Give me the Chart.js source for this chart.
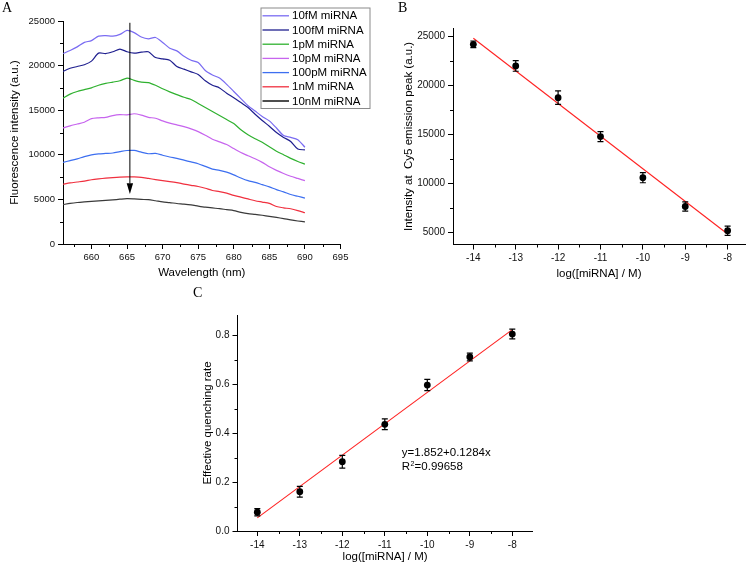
<!DOCTYPE html>
<html><head><meta charset="utf-8">
<script src="https://cdn.jsdelivr.net/npm/chart.js@4"></script>
<style>
html,body{margin:0;padding:0;background:#fff;}
#wrap{position:relative;width:750px;height:567px;overflow:hidden;background:#fff;}
#wrap canvas{position:absolute;left:0;top:0;}
.lbl{position:absolute;font-family:'Liberation Serif','DejaVu Serif',serif;font-size:14px;line-height:14px;color:#000;}
</style></head><body>
<div id="wrap">
<canvas id="cA" width="750" height="567" style="width:750px;height:567px"></canvas>
<canvas id="cB" width="750" height="567" style="width:750px;height:567px"></canvas>
<canvas id="cC" width="750" height="567" style="width:750px;height:567px"></canvas>
<div class="lbl" style="left:2px;top:1px">A</div>
<div class="lbl" style="left:398px;top:1px">B</div>
<div class="lbl" style="left:193px;top:286px">C</div>
</div>
<script>
// ---------- DATA ----------
const wavelengths = [656,657,658,659,660,661,662,663,664,665,666,667,668,669,670,671,672,673,674,675,676,677,678,679,680,681,682,683,684,685,686,687,688,689,690];
const s10fM  = [21350,21700,22100,22600,22800,23300,23350,23300,23500,23950,23700,23200,23000,23150,22600,21950,21650,21050,20600,20350,19450,18950,18600,17900,17100,16300,15500,14900,14300,13800,13000,12150,11950,11700,10850];
const s100fM = [19350,19700,19900,20100,20500,21400,21350,21550,21850,21550,21400,21500,21550,20900,20750,20600,19900,19600,19300,19000,18300,17800,17500,16900,16400,15850,15300,14550,13850,13200,12500,11950,11500,10650,10550];
const s1pM   = [16350,16800,17100,17300,17500,17800,18000,18150,18300,18600,18350,18150,18100,17800,17400,17050,16750,16450,16200,15750,15300,14850,14400,13950,13500,12800,12250,11800,11400,10900,10400,10000,9600,9250,8950];
const s10pM  = [13000,13250,13450,13650,14050,14150,14200,14400,14500,14480,14600,14450,14200,14100,13800,13550,13350,13150,12900,12600,12200,11750,11450,11150,10700,10250,9900,9550,9150,8650,8250,7900,7600,7350,7100];
const s100pM = [9150,9350,9550,9800,10000,10100,10150,10200,10350,10480,10490,10300,10120,10150,9950,9750,9600,9400,9200,9000,8700,8400,8250,8050,7750,7400,7100,6900,6650,6400,6100,5850,5550,5350,5150];
const s1nM   = [6700,6850,6950,7050,7200,7300,7380,7450,7500,7520,7520,7480,7350,7220,7100,7000,6880,6720,6580,6450,6250,6000,5880,5700,5450,5250,5050,4850,4700,4550,4200,4050,3950,3750,3500];
const s10nM  = [4420,4550,4650,4720,4780,4830,4880,4950,5020,5080,5050,5000,4970,4850,4720,4640,4540,4470,4380,4250,4130,4040,3960,3850,3750,3550,3400,3320,3220,3100,2980,2850,2700,2580,2480];
const seriesLabels = ['10fM miRNA','100fM miRNA','1pM miRNA','10pM miRNA','100pM miRNA','1nM miRNA','10nM miRNA'];
const seriesColors = ['#7a6cf2','#1f1f8f','#2fb12f','#c765ee','#3d6ff0','#f0303f','#3a3a3a'];
const arrowA = {x:665.4, from:24800, headBase:6800, to:5600};

const logConc   = [-14,-13,-12,-11,-10,-9,-8];
const peakB     = [24150,21950,18720,14750,10560,7630,5160];
const peakErrB  = [340,540,680,510,510,470,470];
const fitX      = [-14,-8];
const fitBY     = [24770,4830];
const quenchC   = [0.077,0.161,0.284,0.437,0.598,0.713,0.807];
const quenchErrC= [0.015,0.022,0.026,0.022,0.023,0.016,0.02];
const fitCY     = [0.054,0.825];

const ticksAx = [660,665,670,675,680,685,690,695];
const ticksAy = [0,5000,10000,15000,20000,25000];
const ticksBx = [-14,-13,-12,-11,-10,-9,-8];
const ticksBy = [5000,10000,15000,20000,25000];
const ticksCx = [-14,-13,-12,-11,-10,-9,-8];
const ticksCy = [0,0.2,0.4,0.6,0.8];

// ---------- HELPERS ----------
const FONT = "'Liberation Sans', Arial, sans-serif";
function makeScale(o){
  return {
    type:'linear', min:o.min, max:o.max, position:o.horizontal?'bottom':'left',
    afterBuildTicks:(s)=>{ s.ticks = o.ticks.map(v=>({value:v})); },
    afterFit:(s)=>{ if(o.horizontal) s.height=o.fixed; else s.width=o.fixed; },
    grid:{drawOnChartArea:false, drawTicks:true, tickLength:5, color:'#000', lineWidth:1},
    border:{display:true, color:'#000', width:1},
    ticks:{autoSkip:false, maxRotation:0, minRotation:0, padding:3, color:'#111',
      font:{family:FONT, size:o.fontSize}, callback:o.fmt || (v=>String(v))},
    title:{display:true, text:o.title, color:'#000', padding:0, font:{family:FONT, size:11.5}}
  };
}
const minorTicks = {
  id:'minorTicks',
  afterDraw(chart, args, opts){
    const ctx = chart.ctx; ctx.save(); ctx.strokeStyle='#000'; ctx.lineWidth=1;
    ['x','y'].forEach(id=>{
      const step = opts[id]; if(!step) return;
      const s = chart.scales[id];
      const majors = s.ticks.map(t=>t.value);
      const k0 = Math.ceil(s.min/step - 1e-9), k1 = Math.floor(s.max/step + 1e-9);
      for(let k=k0;k<=k1;k++){
        const v = k*step;
        if(majors.some(m=>Math.abs(m-v) < step*1e-3)) continue;
        const p = Math.round(s.getPixelForValue(v)) + 0.5;
        ctx.beginPath();
        if(id==='x'){ ctx.moveTo(p, s.top); ctx.lineTo(p, s.top+3); }
        else { ctx.moveTo(s.right, p); ctx.lineTo(s.right-3, p); }
        ctx.stroke();
      }
    });
    ctx.restore();
  }
};
const errorBars = {
  id:'errorBars',
  afterDatasetsDraw(chart){
    const ctx = chart.ctx, xs = chart.scales.x, ys = chart.scales.y;
    chart.data.datasets.forEach(ds=>{
      if(!ds.errors) return;
      ctx.save(); ctx.strokeStyle='#000'; ctx.lineWidth=1.2;
      ds.data.forEach((pt,i)=>{
        const e = ds.errors[i];
        const px = xs.getPixelForValue(pt.x);
        const y1 = ys.getPixelForValue(pt.y+e), y2 = ys.getPixelForValue(pt.y-e);
        ctx.beginPath();
        ctx.moveTo(px,y1); ctx.lineTo(px,y2);
        ctx.moveTo(px-3,y1); ctx.lineTo(px+3,y1);
        ctx.moveTo(px-3,y2); ctx.lineTo(px+3,y2);
        ctx.stroke();
      });
      ctx.restore();
    });
  }
};
const arrowPlugin = {
  id:'arrowPlugin',
  afterDatasetsDraw(chart, args, o){
    const ctx = chart.ctx, xs = chart.scales.x, ys = chart.scales.y;
    const px = xs.getPixelForValue(o.x);
    const yTop = ys.getPixelForValue(o.from), yBase = ys.getPixelForValue(o.headBase), yTip = ys.getPixelForValue(o.to);
    ctx.save(); ctx.strokeStyle='#000'; ctx.fillStyle='#000'; ctx.lineWidth=1;
    ctx.beginPath(); ctx.moveTo(px,yTop); ctx.lineTo(px,yBase); ctx.stroke();
    ctx.beginPath(); ctx.moveTo(px-3.2,yBase); ctx.lineTo(px+3.2,yBase); ctx.lineTo(px,yTip); ctx.closePath(); ctx.fill();
    ctx.restore();
  }
};
const boxLegend = {
  id:'boxLegend',
  afterDraw(chart, args, o){
    const ctx = chart.ctx; ctx.save();
    ctx.fillStyle='#fff'; ctx.fillRect(o.left, o.top, o.width, o.height);
    ctx.strokeStyle='#8a8a8a'; ctx.lineWidth=1;
    ctx.strokeRect(o.left+0.5, o.top+0.5, o.width, o.height);
    ctx.font = '11.5px ' + FONT; ctx.textBaseline='middle'; ctx.textAlign='left';
    chart.data.datasets.forEach((ds,i)=>{
      const y = o.top + o.first + i*o.gap;
      ctx.strokeStyle = ds.borderColor; ctx.lineWidth = (i===6)?1.8:1.3;
      ctx.beginPath(); ctx.moveTo(o.left+2, y); ctx.lineTo(o.left+28.5, y); ctx.stroke();
      ctx.fillStyle='#000'; ctx.fillText(ds.label, o.left+31.5, y+0.5);
    });
    ctx.restore();
  }
};
const fitText = {
  id:'fitText',
  afterDraw(chart, args, o){
    const ctx = chart.ctx, xs = chart.scales.x, ys = chart.scales.y;
    const px = xs.getPixelForValue(o.x), py = ys.getPixelForValue(o.y);
    ctx.save(); ctx.fillStyle='#000'; ctx.textBaseline='middle'; ctx.textAlign='left';
    ctx.font = '11.5px ' + FONT;
    ctx.fillText(o.line1, px, py);
    const y2 = py + 14.6;
    ctx.fillText('R', px, y2);
    const wR = ctx.measureText('R').width;
    ctx.font = '7px ' + FONT;
    ctx.fillText('2', px+wR+0.3, y2-3.5);
    const w2 = ctx.measureText('2').width;
    ctx.font = '11.5px ' + FONT;
    ctx.fillText(o.line2, px+wR+w2+0.6, y2);
    ctx.restore();
  }
};

const baseOpts = (pad)=>({
  responsive:false, animation:false, events:[],
  layout:{padding:pad, autoPadding:false},
});

// ---------- CHART A ----------
const seriesA = [s10fM,s100fM,s1pM,s10pM,s100pM,s1nM,s10nM];
new Chart(document.getElementById('cA'), {
  type:'scatter',
  data:{datasets: seriesA.map((arr,i)=>({
    label:seriesLabels[i], data: wavelengths.map((w,j)=>({x:w, y:arr[j]})),
    showLine:true, borderColor:seriesColors[i], backgroundColor:seriesColors[i],
    borderWidth:1.2, pointRadius:0, tension:0.25
  }))},
  options:Object.assign(baseOpts({left:8, right:409.5, top:21, bottom:287.4}), {
    scales:{
      x: makeScale({min:656, max:695, ticks:ticksAx, fontSize:9.5, title:'Wavelength (nm)', fixed:35.6, horizontal:true}),
      y: makeScale({min:0, max:25000, ticks:ticksAy, fontSize:9.5, title:'Fluorescence intensity (a.u.)', fixed:55})
    },
    plugins:{legend:{display:false}, tooltip:{enabled:false},
      minorTicks:{x:2.5, y:2500},
      arrowPlugin:arrowA,
      boxLegend:{left:260.5, top:7.5, width:109, height:100.5, first:8.3, gap:14.2}
    }
  }),
  plugins:[minorTicks, arrowPlugin, boxLegend]
});

// ---------- CHART B ----------
new Chart(document.getElementById('cB'), {
  type:'scatter',
  data:{datasets:[
    {label:'Peak intensity', data: logConc.map((x,i)=>({x, y:peakB[i]})), errors:peakErrB,
     pointRadius:3.4, pointBackgroundColor:'#000', pointBorderWidth:0, backgroundColor:'#000'},
    {label:'Fit', data: fitX.map((x,i)=>({x, y:fitBY[i]})), showLine:true, borderColor:'#ff2222',
     borderWidth:1.1, pointRadius:0}
  ]},
  options:Object.assign(baseOpts({left:402.4, right:5, top:28.3, bottom:286.1}), {
    scales:{
      x: makeScale({min:-14.48, max:-7.59, ticks:ticksBx, fontSize:10, title:'log([miRNA] / M)', fixed:36.4, horizontal:true}),
      y: makeScale({min:3757, max:25785, ticks:ticksBy, fontSize:10, title:'Intensity at  Cy5 emission peak (a.u.)', fixed:50.6})
    },
    plugins:{legend:{display:false}, tooltip:{enabled:false}, minorTicks:{x:0.5, y:2500}}
  }),
  plugins:[minorTicks, errorBars]
});

// ---------- CHART C ----------
new Chart(document.getElementById('cC'), {
  type:'scatter',
  data:{datasets:[
    {label:'Quenching rate', data: logConc.map((x,i)=>({x, y:quenchC[i]})), errors:quenchErrC,
     pointRadius:3.4, pointBackgroundColor:'#000', pointBorderWidth:0, backgroundColor:'#000'},
    {label:'Fit', data: fitX.map((x,i)=>({x, y:fitCY[i]})), showLine:true, borderColor:'#ff2222',
     borderWidth:1.1, pointRadius:0}
  ]},
  options:Object.assign(baseOpts({left:201.4, right:217.3, top:315, bottom:3.1}), {
    scales:{
      x: makeScale({min:-14.466, max:-7.52, ticks:ticksCx, fontSize:10, title:'log([miRNA] / M)', fixed:32.9, horizontal:true}),
      y: makeScale({min:0, max:0.885, ticks:ticksCy, fontSize:10, title:'Effective quenching rate', fixed:36.1, fmt:(v=>v.toFixed(1))})
    },
    plugins:{legend:{display:false}, tooltip:{enabled:false}, minorTicks:{x:0.5, y:0.1},
      fitText:{x:-10.6, y:0.321, line1:'y=1.852+0.1284x', line2:'=0.99658'}
    }
  }),
  plugins:[minorTicks, errorBars, fitText]
});
</script>
</body></html>
